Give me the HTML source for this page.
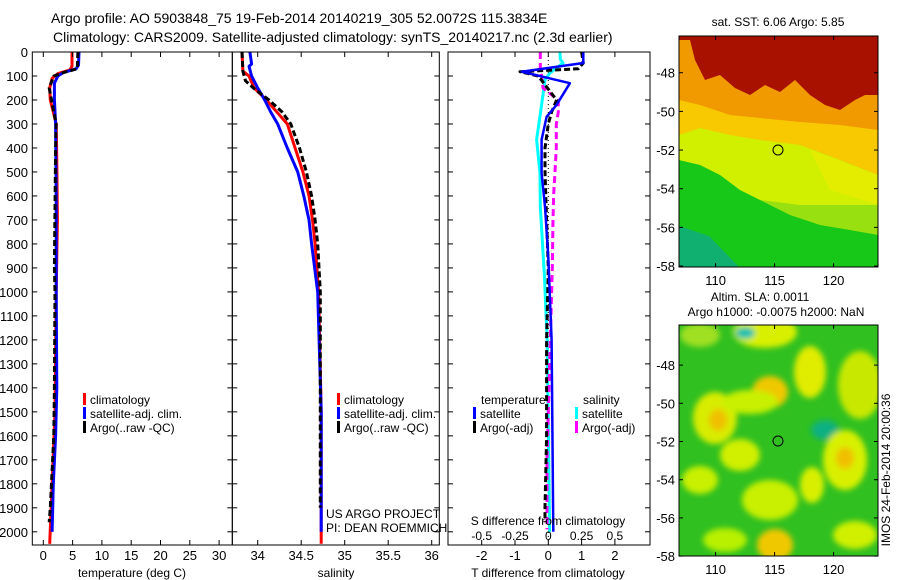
<!DOCTYPE html>
<html><head><meta charset="utf-8"><style>
body{margin:0;background:#fff}
svg{display:block;font-family:"Liberation Sans",sans-serif}
text{fill:#000}
</style></head><body>
<svg id="chart" width="900" height="580" viewBox="0 0 900 580">
<defs>
<clipPath id="c1"><rect x="32" y="52" width="200" height="493"/></clipPath>
<clipPath id="c2"><rect x="232" y="52" width="207" height="493"/></clipPath>
<clipPath id="c3"><rect x="448" y="52" width="202" height="493"/></clipPath>
<clipPath id="cm1"><rect x="679" y="36" width="199" height="231"/></clipPath>
<clipPath id="cm2"><rect x="679" y="325" width="199" height="231"/></clipPath>
<filter id="blur" x="-20%" y="-20%" width="140%" height="140%"><feGaussianBlur stdDeviation="3"/></filter>
</defs>
<text x="51" y="23" font-size="14">Argo profile: AO 5903848_75 19-Feb-2014 20140219_305 52.0072S 115.3834E</text>
<text x="53" y="42" font-size="14">Climatology: CARS2009. Satellite-adjusted climatology: synTS_20140217.nc (2.3d earlier)</text>

<g id="p1"></g>
<g id="p2"></g>
<g id="p3"></g>

<!-- top map -->
<g clip-path="url(#cm1)">
<rect x="679" y="36" width="199" height="231" fill="#a81000"/>
<path fill="#f09a00" d="M679,40 L690,40 L695,60 L705,80 L720,75 L735,88 L750,95 L765,85 L780,92 L795,80 L810,95 L825,105 L840,110 L855,100 L865,95 L878,95 L878,267 L679,267Z"/>
<path fill="#f8c800" d="M679,100 L700,105 L730,115 L760,118 L800,122 L840,125 L878,130 L878,267 L679,267Z"/>
<path fill="#d0f000" d="M679,135 L700,128 L730,135 L760,140 L800,145 L840,160 L878,175 L878,267 L679,267Z"/>
<path fill="#e4ec00" d="M810,150 L878,175 L878,205 L830,190 Z"/>
<path fill="#98e010" d="M679,175 L720,185 L760,200 L800,205 L840,205 L878,205 L878,267 L679,267Z"/>
<path fill="#18c818" d="M679,160 L700,165 L720,175 L740,190 L760,200 L790,215 L820,225 L850,230 L878,235 L878,267 L679,267Z"/>
<path fill="#10b070" d="M679,226 L709,236 L739,267 L679,267Z"/>
</g>
<rect x="679" y="36" width="199" height="231" fill="none" stroke="#000"/>
<circle cx="778" cy="150" r="5" fill="none" stroke="#000"/>
<text x="778" y="26" font-size="12" text-anchor="middle">sat. SST: 6.06 Argo: 5.85</text>

<!-- bottom map -->
<g clip-path="url(#cm2)">
<rect x="679" y="325" width="199" height="231" fill="#30c020"/>
<g filter="url(#blur)">
<ellipse cx="700" cy="335" rx="20" ry="12" fill="#a0e020"/>
<ellipse cx="765" cy="332" rx="32" ry="16" fill="#d8f000"/>
<ellipse cx="810" cy="372" rx="16" ry="26" fill="#e0ec00"/>
<ellipse cx="770" cy="392" rx="18" ry="16" fill="#f0c800"/>
<ellipse cx="715" cy="418" rx="22" ry="26" fill="#d8ec00"/>
<ellipse cx="718" cy="420" rx="9" ry="11" fill="#f0c000"/>
<ellipse cx="750" cy="402" rx="28" ry="12" fill="#c8f000"/>
<ellipse cx="860" cy="385" rx="22" ry="34" fill="#c8e800"/>
<ellipse cx="825" cy="430" rx="14" ry="10" fill="#10b080"/>
<ellipse cx="740" cy="455" rx="20" ry="16" fill="#d0f000"/>
<ellipse cx="845" cy="460" rx="22" ry="30" fill="#d8f000"/>
<ellipse cx="845" cy="458" rx="9" ry="11" fill="#f0c000"/>
<ellipse cx="700" cy="480" rx="18" ry="14" fill="#c8f000"/>
<ellipse cx="770" cy="500" rx="28" ry="20" fill="#c8f000"/>
<ellipse cx="812" cy="485" rx="12" ry="18" fill="#d8f000"/>
<ellipse cx="775" cy="545" rx="18" ry="16" fill="#f0c800"/>
<ellipse cx="725" cy="540" rx="22" ry="12" fill="#b8f000"/>
<ellipse cx="855" cy="535" rx="22" ry="14" fill="#d0f000"/>
<ellipse cx="745" cy="333" rx="10" ry="6" fill="#10c0b0"/>
</g>
</g>
<rect x="679" y="325" width="199" height="231" fill="none" stroke="#000"/>
<circle cx="778" cy="441" r="5" fill="none" stroke="#000"/>
<text x="760" y="301" font-size="12" text-anchor="middle">Altim. SLA: 0.0011</text>
<text x="776" y="316" font-size="12" text-anchor="middle">Argo h1000: -0.0075 h2000: NaN</text>
<text transform="translate(890,470) rotate(-90)" font-size="12" text-anchor="middle">IMOS 24-Feb-2014 20:00:36</text>
<g id="maps"></g>
</svg>
<script>
// ---- profile data (depth m, value) ----
const climDepthT = [0,60,75,90,110,150,200,250,300,450,700,1000,1500,1800,2050];
const climT      = [4.9,4.9,4.5,2.5,1.5,1.1,1.2,1.7,2.2,2.3,2.4,2.2,2.0,1.5,1.1];
const satDepthT  = [0,55,70,85,100,130,200,300,600,1000,1400,1600,1800,2000];
const satT       = [6.1,6.0,5.6,3.5,2.5,1.9,1.9,2.1,2.2,2.2,2.3,2.1,1.7,1.5];
const argoDepthT = [0,70,85,100,150,200,300,400,900,1000,1400,1600,1900,1960];
const argoT      = [5.9,5.8,3.5,1.8,1.0,1.4,2.2,2.1,1.9,2.0,1.9,1.8,1.2,1.0];

const climDepthS = [0,80,100,150,200,300,400,500,600,700,800,1000,1500,2050];
const climS      = [33.82,33.83,33.9,33.96,34.1,34.34,34.43,34.52,34.59,34.63,34.66,34.70,34.73,34.73];
const satDepthS  = [0,50,60,100,150,200,250,300,400,500,600,700,800,1000,1500,2000];
const satS       = [33.91,33.93,33.9,33.93,34.0,34.08,34.15,34.23,34.34,34.46,34.53,34.59,34.62,34.69,34.73,34.73];
const argoDepthS = [0,80,120,150,200,250,300,400,500,600,700,800,1000,1900];
const argoS      = [33.82,33.83,33.86,33.95,34.13,34.28,34.38,34.48,34.56,34.62,34.66,34.69,34.72,34.72];

// ---- difference data ----
const dDepthSatT = [0,46,82,130,220,270,366,505,645,855,1200,2000];
const dSatT      = [1.05,1.05,-0.8,0.65,0.25,-0.05,-0.2,-0.2,-0.1,0,0.1,0.15];
const dDepthSatS = [0,30,46,88,116,220,366,505,645,925,1200,2000];
const dSatS      = [0.088,0.09,0.11,0.012,-0.025,-0.05,-0.088,-0.062,-0.06,-0.03,-0.008,0.01];
const dDepthArgoT= [0,46,70,82,100,200,250,300,400,500,700,900,1200,1600,1900,1960];
const dArgoT     = [1.0,1.05,0.9,-0.85,-0.3,0.25,0.1,0,-0.1,-0.1,-0.05,0,-0.05,-0.05,-0.1,-0.1];
const dDepthArgoS= [0,80,100,150,200,250,300,400,500,600,700,900,1700,1990];
const dArgoS     = [-0.06,-0.06,-0.05,-0.04,0.075,0.075,0.06,0.06,0.05,0.04,0.035,0.03,-0.01,-0.01];

// ---- ticks ----
const depthTicks = [0,100,200,300,400,500,600,700,800,900,1000,1100,1200,1300,1400,1500,1600,1700,1800,1900,2000];
const tempTicks = [0,5,10,15,20,25,30];
const salTicks = [34,34.5,35,35.5,36];
const tdiffTicks = [-2,-1,0,1,2];
const sdiffTicks = [-0.5,-0.25,0,0.25,0.5];
const sdiffTickLabels = ["-0.5","-0.25","0","0.25","0.5"];
const latTicks = [-48,-50,-52,-54,-56,-58];
const lonTicks = [110,115,120];

const NS='http://www.w3.org/2000/svg';
const yD = d => 52 + d*0.2399;
const xT = t => 43.3 + t*5.86;
const xS = s => 257.7 + (s-34)*87;
const xDT = t => 548.3 + t*33.3;
const xDS = s => 548.3 + s*133.2;
function mk(tag, attrs, parent){const e=document.createElementNS(NS,tag);for(const k in attrs)e.setAttribute(k,attrs[k]);parent.appendChild(e);return e;}
function pathFrom(depths, vals, fx){return depths.map((d,i)=>(i?'L':'M')+fx(vals[i]).toFixed(1)+','+yD(d).toFixed(1)).join(' ');}

function frame(g, x0, x1, name){
  const r=mk('rect',{x:x0,y:52,width:x1-x0,height:493,fill:'none',stroke:'#000'},g);
  
  
  depthTicks.forEach(d=>{
    const t1=mk('line',{x1:x0,x2:x0+5,y1:yD(d),y2:yD(d),stroke:'#000'},g);
    
    
    const t2=mk('line',{x1:x1,x2:x1-5,y1:yD(d),y2:yD(d),stroke:'#000'},g);
    
    
  });
}
function xticks(g, ticks, fx, labels, ly, name){
  ticks.forEach((v,i)=>{
    const a=mk('line',{x1:fx(v),x2:fx(v),y1:545,y2:540,stroke:'#000'},g);
    
    
    const b=mk('line',{x1:fx(v),x2:fx(v),y1:52,y2:57,stroke:'#000'},g);
    
    
    if(labels){
      const t=mk('text',{x:fx(v),y:ly,'font-size':13,'text-anchor':'middle'},g);
      t.textContent=labels[i];
      
      
    }
  });
}
function line(g, clip, depths, vals, fx, color, w, dash, name){
  const p=mk('path',{d:pathFrom(depths,vals,fx),fill:'none',stroke:color,'stroke-width':w,'clip-path':'url(#'+clip+')','stroke-linejoin':'round'},g);
  if(dash)p.setAttribute('stroke-dasharray',dash);
  
  
}
function txt(g,x,y,s,fs,anchor,name){
  const t=mk('text',{x:x,y:y,'font-size':fs,'text-anchor':anchor||'start'},g);
  t.textContent=s;
  
  
}
function legend(g,x,y,color,label,name){
  const r=mk('rect',{x:x,y:y-11,width:3,height:12,fill:color},g);
  
  
  txt(g,x+7,y,label,12,'start',name);
}

// panel 1
const p1=document.getElementById('p1');
line(p1,'c1',climDepthT,climT,xT,'#f00',3,null,'climatology-temperature-line');
line(p1,'c1',satDepthT,satT,xT,'#00f',3,null,'satellite-temperature-line');
line(p1,'c1',argoDepthT,argoT,xT,'#000',3,'6,3','argo-temperature-line');
frame(p1,32.3,232.3,'temperature-panel-frame');
xticks(p1,tempTicks,xT,tempTicks.map(String),560,'temperature-x');
depthTicks.forEach(d=>txt(p1,28,yD(d)+5,String(d),13,'end','depth-tick-label'));
txt(p1,132,577,'temperature (deg C)',12,'middle','temperature-axis-title');
legend(p1,83,404,'#f00','climatology','legend-climatology');
legend(p1,83,418,'#00f','satellite-adj. clim.','legend-satellite');
legend(p1,83,432,'#000','Argo(..raw -QC)','legend-argo');

// panel 2
const p2=document.getElementById('p2');
line(p2,'c2',climDepthS,climS,xS,'#f00',3,null,'climatology-salinity-line');
line(p2,'c2',satDepthS,satS,xS,'#00f',3,null,'satellite-salinity-line');
line(p2,'c2',argoDepthS,argoS,xS,'#000',3,'6,3','argo-salinity-line');
frame(p2,232.3,439.3,'salinity-panel-frame');
xticks(p2,salTicks,xS,salTicks.map(String),560,'salinity-x');
txt(p2,336,577,'salinity',12,'middle','salinity-axis-title');
legend(p2,337,404,'#f00','climatology','legend-climatology');
legend(p2,337,418,'#00f','satellite-adj. clim.','legend-satellite');
legend(p2,337,432,'#000','Argo(..raw -QC)','legend-argo');
txt(p2,326,518,'US ARGO PROJECT',12,'start','project-label');
txt(p2,326,532,'PI: DEAN ROEMMICH',12,'start','pi-label');

// panel 3
const p3=document.getElementById('p3');
const z=mk('line',{x1:548.3,x2:548.3,y1:52,y2:545,stroke:'#000','stroke-dasharray':'1,3'},p3);


line(p3,'c3',dDepthSatS,dSatS,xDS,'#0ff',3,null,'salinity-satellite-diff-line');
line(p3,'c3',dDepthArgoS,dArgoS,xDS,'#f0f',3,'7,4','salinity-argo-diff-line');
line(p3,'c3',dDepthArgoT,dArgoT,xDT,'#000',3,'6,3','temperature-argo-diff-line');
line(p3,'c3',dDepthSatT,dSatT,xDT,'#00f',2.5,null,'temperature-satellite-diff-line');
frame(p3,448,650,'difference-panel-frame');
xticks(p3,tdiffTicks,xDT,tdiffTicks.map(String),560,'t-diff-x');
sdiffTicks.forEach((v,i)=>txt(p3,xDS(v),540,sdiffTickLabels[i],12,'middle','s-diff-tick-label'));
txt(p3,548,525,'S difference from climatology',12,'middle','s-diff-axis-title');
txt(p3,548,577,'T difference from climatology',12,'middle','t-diff-axis-title');
txt(p3,481,404,'temperature',12,'start','legend-temperature-header');
legend(p3,473,418,'#00f','satellite','legend-temperature-satellite');
legend(p3,473,432,'#000','Argo(-adj)','legend-temperature-argo');
txt(p3,583,404,'salinity',12,'start','legend-salinity-header');
legend(p3,575,418,'#0ff','satellite','legend-salinity-satellite');
legend(p3,575,432,'#f0f','Argo(-adj)','legend-salinity-argo');

// map axes
const gm=document.getElementById('maps');
function mapAxes(top,bot,latTop,pxPerLat,name){
  const xL=d=>679+(d-106.9)*11.8;
  latTicks.forEach(l=>{
    const y=top+(latTop-l)*pxPerLat;
    const a=mk('line',{x1:679,x2:683,y1:y,y2:y,stroke:'#000'},gm);
    
    
    const b=mk('line',{x1:878,x2:874,y1:y,y2:y,stroke:'#000'},gm);
    
    
    txt(gm,675,y+5,String(l),13,'end',name+'-lat-label');
  });
  lonTicks.forEach(l=>{
    const x=xL(l);
    const a=mk('line',{x1:x,x2:x,y1:top,y2:top+4,stroke:'#000'},gm);
    
    
    const b=mk('line',{x1:x,x2:x,y1:bot,y2:bot-4,stroke:'#000'},gm);
    
    
    txt(gm,x,bot+18,String(l),13,'middle',name+'-lon-label');
  });
}
mapAxes(36,267,-46.1,19.33,'sst-map');
mapAxes(325,556,-45.9,19.1,'sla-map');
</script>
</body></html>
